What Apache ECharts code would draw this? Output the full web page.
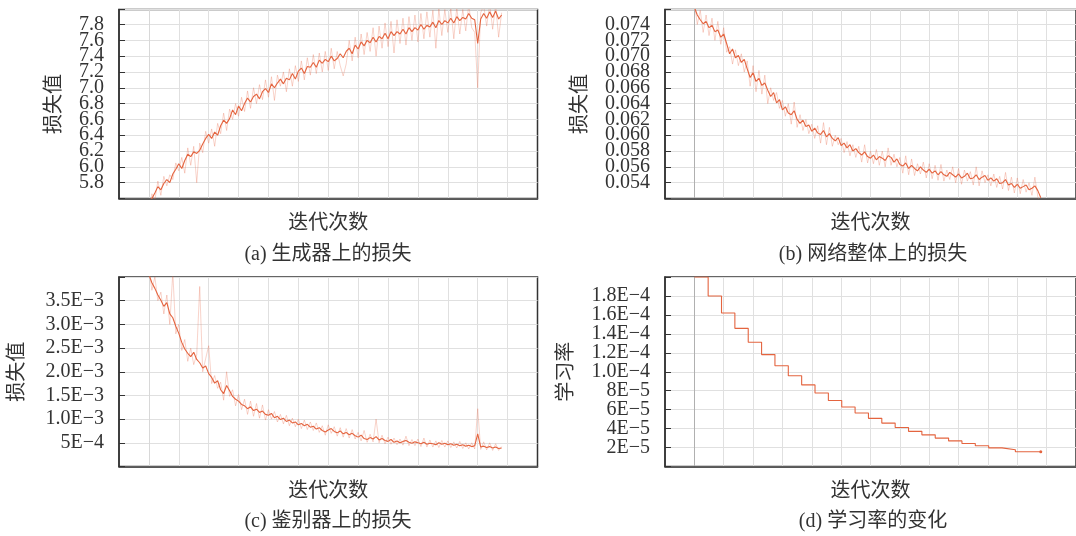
<!DOCTYPE html>
<html lang="zh">
<head>
<meta charset="UTF-8">
<title>训练过程曲线</title>
<script src="https://cdn.jsdelivr.net/npm/echarts@6.0.0/dist/echarts.min.js"></script>
<style>
  html, body { margin: 0; padding: 0; background: #fff; }
  #main { width: 1076px; height: 536px; }
</style>
</head>
<body>
<div id="main"></div>
<script type="text/javascript">
// logged every 100 iterations, from 1000 to 12800
const iterations = Array.from({ length: 119 }, (_, i) => 1000 + i * 100);

// (a) generator loss: smoothed and raw
const genLoss = [
  5.50,5.60,5.67,5.75,5.71,5.79,5.84,5.80,5.91,5.97,
  6.04,5.98,6.08,6.16,6.13,6.19,6.17,6.21,6.29,6.36,
  6.41,6.36,6.44,6.40,6.52,6.59,6.55,6.61,6.72,6.66,
  6.77,6.71,6.80,6.87,6.82,6.89,6.92,6.86,6.95,6.99,
  6.94,7.05,7.00,7.06,7.11,7.05,7.12,7.10,7.18,7.11,
  7.21,7.25,7.18,7.27,7.26,7.32,7.26,7.35,7.31,7.36,
  7.33,7.40,7.34,7.37,7.43,7.38,7.46,7.50,7.43,7.54,
  7.49,7.58,7.53,7.60,7.57,7.64,7.58,7.65,7.62,7.69,
  7.62,7.71,7.66,7.71,7.68,7.74,7.68,7.76,7.71,7.76,
  7.73,7.80,7.74,7.79,7.77,7.83,7.76,7.85,7.80,7.85,
  7.82,7.88,7.82,7.90,7.85,7.89,7.87,7.94,7.88,7.86,
  7.56,7.87,7.94,7.88,7.96,7.89,7.97,7.87,7.92
];
const genLossRaw = [
  5.45,5.66,5.58,5.82,5.64,5.88,5.76,5.90,5.84,6.05,
  5.95,6.12,5.92,6.24,6.02,6.26,5.80,6.30,6.18,6.45,
  6.30,6.48,6.26,6.55,6.42,6.68,6.46,6.73,6.60,6.80,
  6.64,6.88,6.70,6.96,6.74,7.00,6.80,7.04,6.85,7.10,
  6.88,7.14,6.84,7.16,7.02,7.20,6.95,7.24,7.02,7.28,
  7.08,7.34,7.10,7.38,7.16,7.42,7.18,7.44,7.20,7.46,
  7.22,7.50,7.24,7.46,7.28,7.15,7.30,7.60,7.34,7.64,
  7.38,7.68,7.42,7.70,7.46,7.76,7.40,7.78,7.50,7.82,
  7.52,7.84,7.44,7.86,7.56,7.88,7.54,7.90,7.60,7.92,
  7.58,7.94,7.62,7.96,7.64,7.98,7.50,8.00,7.66,7.99,
  7.70,8.00,7.62,8.02,7.68,7.99,7.72,8.05,7.76,7.70,
  7.00,7.95,8.04,7.78,8.06,7.74,8.05,7.64,7.95
];

// (b) total network loss
const netLoss = [
  0.0762,0.0752,0.0746,0.0741,0.0744,0.0736,0.0739,0.0731,0.0733,0.0724,
  0.0728,0.0716,0.0703,0.0709,0.0698,0.0701,0.0692,0.0696,0.0684,0.0673,
  0.0679,0.0668,0.0672,0.0663,0.0666,0.0657,0.0649,0.0654,0.0641,0.0645,
  0.0632,0.0636,0.0628,0.0626,0.0631,0.0620,0.0615,0.0619,0.0611,0.0613,
  0.0605,0.0609,0.0603,0.0601,0.0606,0.0598,0.0602,0.0596,0.0593,0.0597,
  0.0587,0.0590,0.0584,0.0588,0.0580,0.0583,0.0578,0.0575,0.0579,0.0573,
  0.0571,0.0575,0.0569,0.0573,0.0571,0.0568,0.0574,0.0572,0.0566,0.0570,
  0.0563,0.0561,0.0565,0.0558,0.0562,0.0558,0.0555,0.0560,0.0556,0.0553,
  0.0557,0.0552,0.0555,0.0550,0.0554,0.0550,0.0548,0.0553,0.0550,0.0547,
  0.0551,0.0546,0.0548,0.0552,0.0545,0.0546,0.0550,0.0544,0.0547,0.0549,
  0.0543,0.0546,0.0542,0.0545,0.0539,0.0540,0.0544,0.0537,0.0539,0.0534,
  0.0538,0.0533,0.0535,0.0537,0.0531,0.0533,0.0536,0.0530,0.0521
];
const netLossRaw = [
  0.0768,0.0740,0.0758,0.0730,0.0752,0.0726,0.0748,0.0720,0.0744,0.0715,
  0.0736,0.0705,0.0712,0.0690,0.0708,0.0688,0.0703,0.0680,0.0694,0.0662,
  0.0688,0.0655,0.0682,0.0652,0.0676,0.0640,0.0660,0.0644,0.0654,0.0634,
  0.0644,0.0624,0.0640,0.0614,0.0642,0.0610,0.0626,0.0606,0.0620,0.0602,
  0.0614,0.0596,0.0612,0.0590,0.0616,0.0588,0.0610,0.0586,0.0600,0.0588,
  0.0596,0.0578,0.0592,0.0574,0.0588,0.0572,0.0586,0.0566,0.0588,0.0565,
  0.0580,0.0564,0.0582,0.0562,0.0580,0.0560,0.0584,0.0562,0.0576,0.0560,
  0.0572,0.0552,0.0574,0.0550,0.0570,0.0549,0.0564,0.0551,0.0566,0.0546,
  0.0564,0.0545,0.0562,0.0543,0.0563,0.0542,0.0556,0.0544,0.0560,0.0540,
  0.0558,0.0538,0.0556,0.0542,0.0554,0.0537,0.0560,0.0536,0.0555,0.0540,
  0.0550,0.0536,0.0551,0.0534,0.0548,0.0532,0.0553,0.0530,0.0547,0.0527,
  0.0546,0.0526,0.0544,0.0528,0.0540,0.0524,0.0547,0.0522,0.0515
];

// (c) discriminator loss
const discLoss = [
  0.00405,0.00388,0.00376,0.00362,0.00351,0.00338,0.00346,0.00322,0.00314,0.00296,
  0.00281,0.00262,0.00248,0.00239,0.00232,0.00241,0.00226,0.00219,0.00208,0.00212,
  0.00196,0.00188,0.00176,0.00181,0.00162,0.00154,0.00171,0.00160,0.00148,0.00142,
  0.00138,0.00131,0.00128,0.00122,0.00126,0.00118,0.00121,0.00114,0.00117,0.00110,
  0.00108,0.00112,0.00103,0.00106,0.00099,0.00102,0.00095,0.00098,0.00092,0.00094,
  0.00088,0.00091,0.00086,0.00089,0.00083,0.00085,0.00079,0.00082,0.00076,0.00073,
  0.00077,0.00080,0.00074,0.00071,0.00075,0.00069,0.00072,0.00067,0.00070,0.00065,
  0.00062,0.00066,0.00059,0.00057,0.00061,0.00058,0.00063,0.00056,0.00059,0.00055,
  0.00053,0.00057,0.00051,0.00054,0.00050,0.00053,0.00055,0.00051,0.00049,0.00052,
  0.00050,0.00048,0.00051,0.00047,0.00049,0.00048,0.00046,0.00050,0.00047,0.00049,
  0.00046,0.00048,0.00045,0.00047,0.00044,0.00046,0.00043,0.00045,0.00042,0.00044,
  0.00069,0.00041,0.00043,0.00040,0.00042,0.00039,0.00041,0.00038,0.00039
];
const discLossRaw = [
  0.00420,0.00372,0.00400,0.00350,0.00368,0.00322,0.00362,0.00300,0.00410,0.00280,
  0.00300,0.00245,0.00268,0.00222,0.00250,0.00215,0.00236,0.00380,0.00200,0.00228,
  0.00255,0.00175,0.00192,0.00165,0.00178,0.00140,0.00200,0.00148,0.00162,0.00128,
  0.00152,0.00120,0.00142,0.00110,0.00138,0.00106,0.00133,0.00102,0.00130,0.00098,
  0.00120,0.00100,0.00116,0.00094,0.00110,0.00090,0.00108,0.00086,0.00102,0.00084,
  0.00100,0.00080,0.00098,0.00078,0.00094,0.00076,0.00092,0.00072,0.00086,0.00066,
  0.00088,0.00070,0.00084,0.00064,0.00082,0.00062,0.00080,0.00060,0.00078,0.00058,
  0.00072,0.00054,0.00076,0.00051,0.00068,0.00052,0.00100,0.00050,0.00066,0.00048,
  0.00062,0.00047,0.00060,0.00046,0.00058,0.00045,0.00064,0.00044,0.00057,0.00044,
  0.00058,0.00042,0.00060,0.00041,0.00056,0.00041,0.00054,0.00040,0.00055,0.00041,
  0.00054,0.00040,0.00052,0.00039,0.00053,0.00038,0.00050,0.00037,0.00050,0.00037,
  0.00122,0.00036,0.00052,0.00035,0.00050,0.00034,0.00048,0.00034,0.00042
];

// (d) learning rate: iteration of each drop, and the level after it
const lrStart = 1000;
const lrEnd = 12800;
const lrDrops = [1470,1925,2380,2835,3290,3745,4200,4655,5110,5565,6020,6475,
                 6930,7385,7840,8295,8750,9205,9660,10115,10570,11025,11480,11935];
const lrLevels = [2.0e-4,1.8e-4,1.62e-4,1.458e-4,1.312e-4,1.181e-4,1.063e-4,9.57e-5,8.61e-5,
                  7.75e-5,6.97e-5,6.28e-5,5.65e-5,5.08e-5,4.58e-5,4.12e-5,3.71e-5,3.34e-5,
                  3.00e-5,2.70e-5,2.43e-5,2.19e-5,1.97e-5,1.77e-5,1.55e-5];

// tick values and labels
const genTicks = [5.8,6.0,6.2,6.4,6.6,6.8,7.0,7.2,7.4,7.6,7.8];
const genTickLabels = ['5.8','6.0','6.2','6.4','6.6','6.8','7.0','7.2','7.4','7.6','7.8'];
const netTicks = [0.054,0.056,0.058,0.060,0.062,0.064,0.066,0.068,0.070,0.072,0.074];
const netTickLabels = ['0.054','0.056','0.058','0.060','0.062','0.064','0.066','0.068','0.070','0.072','0.074'];
const discTicks = [0.0005,0.001,0.0015,0.002,0.0025,0.003,0.0035];
const discTickLabels = ['5E\u22124','1.0E\u22123','1.5E\u22123','2.0E\u22123','2.5E\u22123','3.0E\u22123','3.5E\u22123'];
const lrTicks = [2e-5,4e-5,6e-5,8e-5,1.0e-4,1.2e-4,1.4e-4,1.6e-4,1.8e-4];
const lrTickLabels = ['2E\u22125','4E\u22125','6E\u22125','8E\u22125','1.0E\u22124','1.2E\u22124','1.4E\u22124','1.6E\u22124','1.8E\u22124'];

const captions = ['(a) 生成器上的损失', '(b) 网络整体上的损失', '(c) 鉴别器上的损失', '(d) 学习率的变化'];
const yNames = ['损失值', '损失值', '损失值', '学习率'];
const xName = '迭代次数';

const FONT = "'Liberation Serif', 'Noto Sans CJK SC', serif";
const LINE = '#e4643f';
const FAINT = 'rgba(232, 110, 80, 0.3)';

function pairs(xs, ys) { return ys.map((v, i) => [xs[i], v]); }

function lookup(vals, labels) {
  return function (v) {
    const i = vals.findIndex(t => Math.abs(t - v) < Math.abs(t) * 1e-6);
    return i < 0 ? '' : labels[i];
  };
}

const lrData = [[lrStart, lrLevels[0]]];
lrDrops.forEach((x, i) => lrData.push([x, lrLevels[i + 1]]));
// small dot at the end of the learning-rate line
lrData.push({ value: [lrEnd, lrLevels[lrLevels.length - 1]], symbol: 'circle', symbolSize: 3 });

const grids = [
  { left: 119, top: 9.5, width: 418.5, height: 189 },
  { left: 665, top: 9.5, width: 415, height: 189 },
  { left: 119, top: 277, width: 418.5, height: 189.5 },
  { left: 665, top: 277, width: 415, height: 189.5 }
];

function vlineColors(first) {
  const c = [first];
  for (let i = 0; i < 13; i++) c.push('#e0e0e0');
  return c;
}

const xAxes = grids.map((g, i) => ({
  type: 'value', gridIndex: i, min: 0, max: 14000, interval: 1000,
  name: xName, nameLocation: 'middle', nameGap: 15,
  nameTextStyle: { fontFamily: FONT, fontSize: 20, color: '#333' },
  axisLine: { show: true, lineStyle: { color: '#333', width: 1.5 } },
  axisTick: { show: false },
  axisLabel: { show: false },
  splitLine: {
    show: true, showMinLine: false, showMaxLine: false,
    lineStyle: { color: vlineColors(i % 2 === 1 ? '#b0b0b0' : '#d8d8d8'), width: 1 }
  }
}));

const yConf = [
  { min: 5.6, max: 7.99, interval: 0.2, fmt: lookup(genTicks, genTickLabels), gap: 54 },
  { min: 0.052, max: 0.0759, interval: 0.002, fmt: lookup(netTicks, netTickLabels), gap: 74 },
  { min: 0, max: 0.004, interval: 0.0005, fmt: lookup(discTicks, discTickLabels), gap: 91 },
  { min: 0, max: 0.0002, interval: 0.00002, fmt: lookup(lrTicks, lrTickLabels), gap: 88 }
];

const yAxes = yConf.map((c, i) => ({
  type: 'value', gridIndex: i, min: c.min, max: c.max, interval: c.interval,
  name: yNames[i], nameLocation: 'middle', nameGap: c.gap,
  nameTextStyle: { fontFamily: FONT, fontSize: 20, color: '#333' },
  axisLine: { show: true, lineStyle: { color: '#333', width: 1.5 } },
  axisTick: { show: true, inside: true, length: 6, lineStyle: { color: '#333' } },
  axisLabel: { formatter: c.fmt, fontFamily: FONT, fontSize: 20, color: '#333', margin: 15 },
  splitLine: { show: true, lineStyle: { color: '#e0e0e0', width: 1 } }
}));

function lineSeries(idx, data, color, z, width) {
  return {
    type: 'line', xAxisIndex: idx, yAxisIndex: idx, data: data,
    showSymbol: true, symbol: 'none', clip: true, z: z,
    itemStyle: { color: color },
    lineStyle: { color: color, width: width || 1 }, animation: false
  };
}

const series = [
  lineSeries(0, pairs(iterations, genLossRaw), FAINT, 2),
  lineSeries(0, pairs(iterations, genLoss), LINE, 3, 1.1),
  lineSeries(1, pairs(iterations, netLossRaw), FAINT, 2),
  lineSeries(1, pairs(iterations, netLoss), LINE, 3, 1.1),
  lineSeries(2, pairs(iterations, discLossRaw), FAINT, 2),
  lineSeries(2, pairs(iterations, discLoss), LINE, 3, 1.1),
  Object.assign(lineSeries(3, lrData, LINE, 3, 1.1), { step: 'end' })
];

const titles = [
  { left: 328, top: 245, text: captions[0] },
  { left: 873, top: 245, text: captions[1] },
  { left: 328, top: 512, text: captions[2] },
  { left: 873, top: 512, text: captions[3] }
].map(t => Object.assign(t, {
  textAlign: 'center', padding: 0,
  textStyle: { fontFamily: FONT, fontSize: 20, fontWeight: 'normal', color: '#333' }
}));

var myChart = echarts.init(document.getElementById('main'), null, { renderer: 'canvas' });
myChart.setOption({
  backgroundColor: '#fff',
  animation: false,
  title: titles,
  grid: grids.map(g => Object.assign({ show: true, borderColor: '#333', borderWidth: 1.5, backgroundColor: 'transparent' }, g)),
  xAxis: xAxes,
  yAxis: yAxes,
  series: series
});
</script>
</body>
</html>
